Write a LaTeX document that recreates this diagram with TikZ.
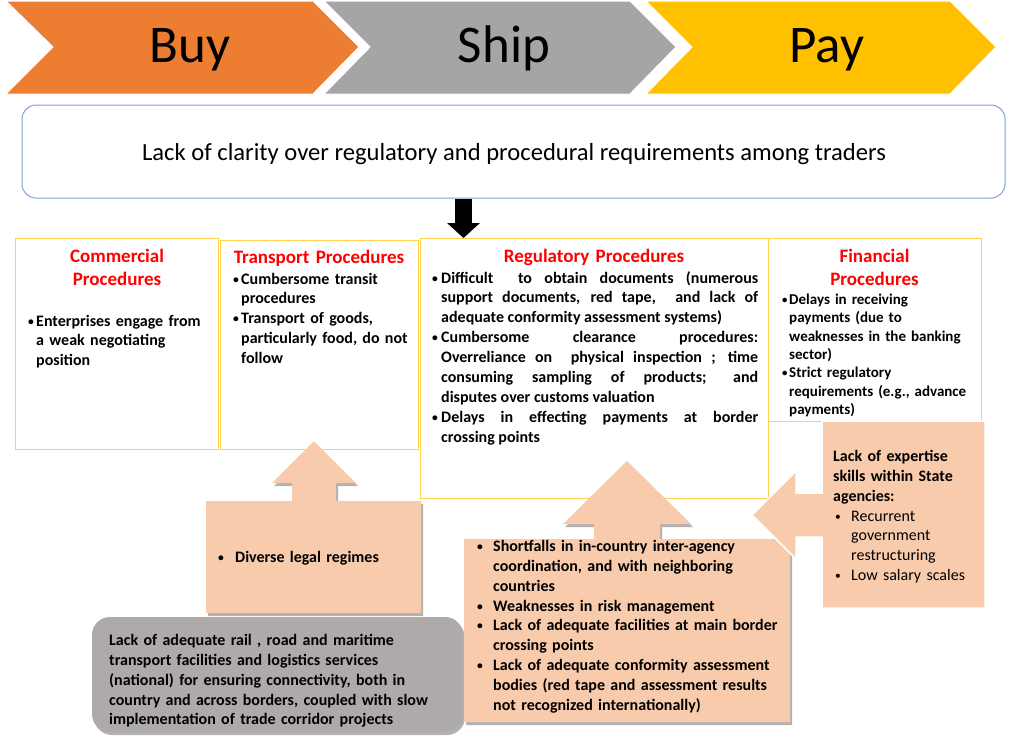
\documentclass[tikz,border=0pt]{standalone}
\usepackage{fontspec}
\setmainfont{Carlito}
\usetikzlibrary{shadows,arrows.meta}
\definecolor{cbuy}{HTML}{ED7D31}
\definecolor{cship}{HTML}{A5A5A5}
\definecolor{cpay}{HTML}{FFC000}
\definecolor{cblue}{HTML}{7F9FD8}
\definecolor{cyel}{HTML}{FFD24D}
\definecolor{cpeach}{HTML}{F8CBAD}
\definecolor{cgray}{HTML}{AEAAAA}
\definecolor{cred}{HTML}{FF0000}
\newcommand{\mybul}[1][8pt]{\makebox[#1][l]{\raisebox{1pt}{\scalebox{0.72}{•}}}}
\newcommand{\myind}[1][8pt]{\hspace*{#1}}
\tikzset{
  box/.style={draw=cyel, line width=1.1pt, inner sep=0, anchor=north west},
  ttl/.style={text=cred, font=\fontsize{19}{23}\selectfont\bfseries, align=center, text width=210pt, anchor=base, inner sep=0},
  body/.style={font=\fontsize{16}{19.8}\selectfont\bfseries, align=left, text width=420pt, anchor=base west, inner sep=0},
  callout/.style={fill=cpeach},
  shade/.style={drop shadow={shadow xshift=2pt, shadow yshift=-3pt, opacity=0.3, fill=black}},
  chev/.style={draw=white, line width=1pt},
  bigtxt/.style={font=\fontsize{53}{60}\selectfont, anchor=base, inner sep=0},
}
\begin{document}
\begin{tikzpicture}[x=1pt,y=-1pt]
\useasboundingbox[fill=white] (0,0) rectangle (1024,745);

% chevrons
\fill[cbuy, chev] (6,1) -- (313,1) -- (359,47) -- (313,94) -- (6,94) -- (53,47) -- cycle;
\fill[cship, chev] (324,1) -- (630,1) -- (676,47) -- (630,94) -- (324,94) -- (370,47) -- cycle;
\fill[cpay, chev] (646,1) -- (950,1) -- (996,47) -- (950,94) -- (646,94) -- (692,47) -- cycle;
\node[bigtxt] (buyT) at (190,62) {Buy};
\node[bigtxt] (shipT) at (504,62) {Ship};
\node[bigtxt] (payT) at (827,62) {Pay};

% clarity box
\node[draw=cblue, line width=1pt, rounded corners=14pt, minimum width=983pt, minimum height=93pt, inner sep=0] (clarity) at (513.5,151.5) {};
\node[font=\fontsize{24.6}{28}\selectfont, anchor=base, inner sep=0] (clarityT) at (514,160) {Lack of clarity over regulatory and procedural requirements among traders};

% procedure boxes
\node[box, minimum width=203pt, minimum height=211pt] (comm) at (15,238) {};
\node[box, minimum width=198pt, minimum height=209pt] (trans) at (220,240) {};
\node[box, minimum width=348pt, minimum height=260pt] (reg) at (420,238) {};
\node[box, minimum width=213pt, minimum height=183pt] (fin) at (768,238) {};

\coordinate (ax) at (463.5,0);
\draw[line width=17pt, -{Triangle[width=32pt,length=15pt]}] (clarity.south -| ax) -- (reg.north -| ax);

\node[ttl] (commT) at (117,262) {Commercial\\Procedures};
\node[body] (commB) at (28,326) {\mybul Enterprises engage from\\\myind a weak negotiating\\\myind position};

\node[ttl] (transT) at (319,263) {Transport Procedures};
\node[body] (transB) at (233,284) {\mybul Cumbersome transit\\\myind procedures\\\mybul Transport of goods,\\\myind particularly food, do not\\\myind follow};

\node[ttl] (regT) at (594,262) {Regulatory Procedures};
\node[font=\fontsize{16}{19.9}\selectfont\bfseries, align=justify, text width=326pt, anchor=base west, inner sep=0] (regB) at (432,283) {\tolerance=10000
\hangindent=9pt\hangafter=1\noindent\mybul[9pt]Difficult \ to obtain documents (numerous\linebreak support documents, red tape, \ and lack of\linebreak adequate conformity assessment systems)\par
\hangindent=9pt\hangafter=1\noindent\mybul[9pt]Cumbersome clearance procedures:\linebreak Overreliance on \ physical inspection ; time\linebreak consuming sampling of products; and\linebreak disputes over customs valuation\par
\hangindent=9pt\hangafter=1\noindent\mybul[9pt]Delays in effecting payments at border\linebreak crossing points\par};

\node[ttl] (finT) at (874.5,262) {Financial\\Procedures};
\node[body, font=\fontsize{15}{18.35}\selectfont\bfseries] (finB) at (782,304.5) {\mybul[7pt]Delays in receiving\\\myind[7pt]payments (due to\\\myind[7pt]weaknesses in the banking\\\myind[7pt]sector)\\\mybul[7pt]Strict regulatory\\\myind[7pt]requirements (e.g., advance\\\myind[7pt]payments)};

% callouts
\fill[callout, shade] (206,501) -- (292,501) -- (292,483) -- (272,483) -- (314,441) -- (356,483) -- (336,483) -- (336,501) -- (421,501) -- (421,613) -- (206,613) -- cycle;
\node[body] (legalB) at (218,562.7) {\mybul[17pt]Diverse legal regimes};

\fill[cgray, shade, rounded corners=18pt] (92,617) rectangle (463,732);
\node[body] (grayB) at (109,645.7) {Lack of adequate rail , road and maritime\\transport facilities and logistics services\\(national) for ensuring connectivity, both in\\country and across borders, coupled with slow\\implementation of trade corridor projects};

\fill[callout, shade] (464,539) -- (594,539) -- (594,524) -- (563,524) -- (627,461) -- (691,524) -- (660,524) -- (660,539) -- (790,539) -- (790,722) -- (464,722) -- cycle;
\node[body] (regcB) at (477,551.7) {\mybul[16pt]Shortfalls in in-country inter-agency\\\myind[16pt]coordination, and with neighboring\\\myind[16pt]countries\\\mybul[16pt]Weaknesses in risk management\\\mybul[16pt]Lack of adequate facilities at main border\\\myind[16pt]crossing points\\\mybul[16pt]Lack of adequate conformity assessment\\\myind[16pt]bodies (red tape and assessment results\\\myind[16pt]not recognized internationally)};

\filldraw[callout, draw=white, line width=1.5pt] (822,421) -- (985,421) -- (985,608) -- (822,608) -- (822,537) -- (796,537) -- (796,559) -- (752,515) -- (796,471) -- (796,493) -- (822,493) -- cycle;
\node[body] (expB) at (833,461.7) {Lack of expertise\\skills within State\\agencies:\\{\mdseries\myind[2pt]\mybul[16pt]Recurrent}\\{\mdseries\myind[18pt]government}\\{\mdseries\myind[18pt]restructuring}\\{\mdseries\myind[2pt]\mybul[16pt]Low salary scales}};
\end{tikzpicture}
\end{document}
